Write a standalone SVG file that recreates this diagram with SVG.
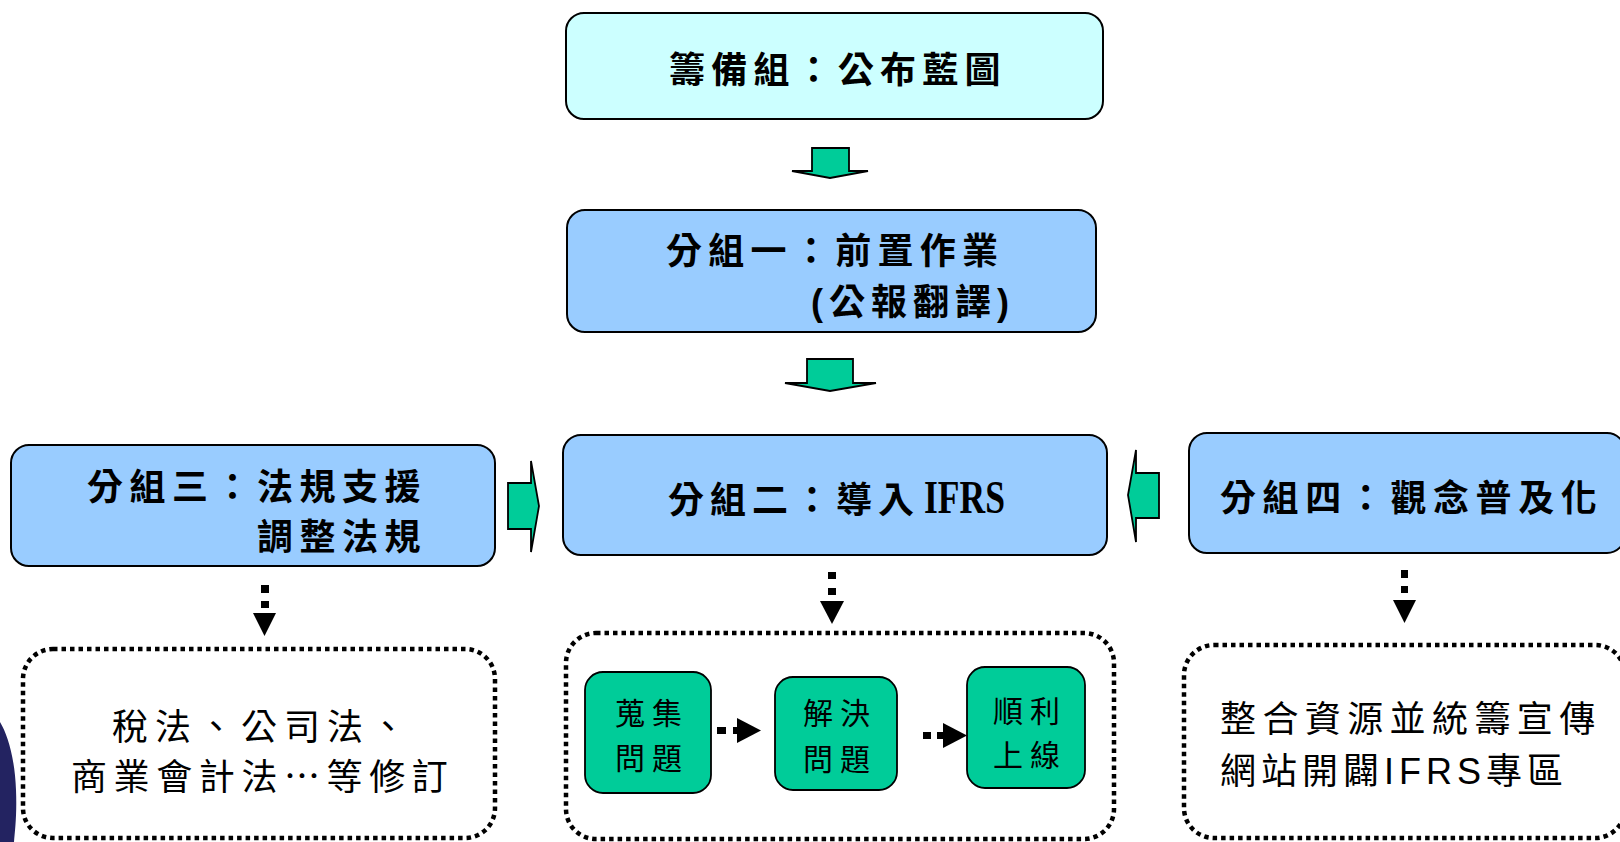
<svg xmlns="http://www.w3.org/2000/svg" width="1620" height="842" viewBox="0 0 1620 842">
<style>
.box{stroke:#000;stroke-width:2}
.cyan{fill:#CCFFFF}
.blue{fill:#99CCFF}
.green{fill:#00CC99;stroke:#000;stroke-width:1.8}
.dot{fill:none;stroke:#000;stroke-width:4.5;stroke-dasharray:4.5 4}
.t{font-family:'Noto Sans CJK TC','Noto Sans CJK SC',sans-serif;font-weight:700;font-size:36px;fill:#000}
.b{font-family:'Noto Sans CJK TC','Noto Sans CJK SC',sans-serif;font-weight:400;font-size:36px;fill:#000}
.s{font-family:'Noto Sans CJK TC','Noto Sans CJK SC',sans-serif;font-weight:400;font-size:30px;fill:#000;letter-spacing:7px}
.k{fill:#000}
</style>
<rect width="1620" height="842" fill="#fff"/>
<path d="M0,722 C8,735 15,760 16,790 C17,815 15,830 14,842 L0,842 Z" fill="#232361"/>

<g id="node-prep">
<rect class="box cyan" x="566" y="13" width="537" height="106" rx="18"/>
<text class="t" x="669" y="83" letter-spacing="6.2">籌備組：公布藍圖</text>
</g>

<g id="node-group1">
<rect class="box blue" x="567" y="210" width="529" height="122" rx="18"/>
<text class="t" x="666" y="264" letter-spacing="6.3">分組一：前置作業</text>
<text class="t" x="811" y="315" letter-spacing="6"><tspan font-family="'Liberation Sans',sans-serif">(</tspan>公報翻譯<tspan font-family="'Liberation Sans',sans-serif">)</tspan></text>
</g>

<g id="node-group3">
<rect class="box blue" x="11" y="445" width="484" height="121" rx="18"/>
<text class="t" x="87" y="500" letter-spacing="6.5">分組三：法規支援</text>
<text class="t" x="257" y="550" letter-spacing="6.5">調整法規</text>
</g>

<g id="node-group2">
<rect class="box blue" x="563" y="435" width="544" height="120" rx="18"/>
<text class="t" x="668" y="513" letter-spacing="6">分組二：導入</text>
<text x="924" y="513" font-family="'Liberation Serif',serif" font-weight="700" font-size="47" textLength="81" lengthAdjust="spacingAndGlyphs">IFRS</text>
</g>

<g id="node-group4">
<rect class="box blue" x="1189" y="433" width="436" height="120" rx="18"/>
<text class="t" x="1220" y="511" letter-spacing="6.6">分組四：觀念普及化</text>
</g>

<g id="node-laws">
<rect class="dot" x="23" y="649" width="472" height="189" rx="30"/>
<text class="b" x="112" y="740" letter-spacing="7">稅法、公司法、</text>
<text class="b" x="71" y="790" letter-spacing="6.6">商業會計法…等修訂</text>
</g>

<g id="node-ifrs-steps">
<rect class="dot" x="566" y="633" width="548" height="206" rx="30"/>
</g>

<g id="node-collect">
<rect class="green" x="585" y="672" width="126" height="121" rx="18"/>
<text class="s" x="615" y="724">蒐集</text>
<text class="s" x="615" y="769">問題</text>
</g>

<g id="node-solve">
<rect class="green" x="775" y="677" width="122" height="113" rx="18"/>
<text class="s" x="803" y="724">解決</text>
<text class="s" x="803" y="770">問題</text>
</g>

<g id="node-online">
<rect class="green" x="967" y="667" width="118" height="121" rx="18"/>
<text class="s" x="993" y="722">順利</text>
<text class="s" x="993" y="766">上線</text>
</g>

<g id="node-promo">
<rect class="dot" x="1184" y="645" width="441" height="193" rx="30"/>
<text class="b" x="1220" y="732" letter-spacing="6.4">整合資源並統籌宣傳</text>
<text class="b" x="1220" y="784" letter-spacing="5">網站開闢<tspan font-family="'Liberation Sans',sans-serif">IFRS</tspan>專區</text>
</g>

<g id="connectors">
<polygon class="green" points="812,148 849,148 849,171 868,171 830,178 792,171 812,171"/>
<polygon class="green" points="807,359 853,359 853,383 876,383 830,391 785,383 807,383"/>
<polygon class="green" points="508,483 531,483 531,461 539,506 531,552 531,529 508,529"/>
<polygon class="green" points="1159,473 1136,473 1136,450 1128,495 1136,542 1136,518 1159,518"/>

<rect class="k" x="261" y="585" width="8" height="8"/>
<rect class="k" x="261" y="601" width="8" height="7"/>
<polygon class="k" points="253,613 276,613 264.5,636"/>

<rect class="k" x="828" y="572" width="8" height="7"/>
<rect class="k" x="828" y="588" width="8" height="7"/>
<polygon class="k" points="820,601 844,601 832,624"/>

<rect class="k" x="1401" y="570" width="7" height="8"/>
<rect class="k" x="1401" y="586" width="7" height="7"/>
<polygon class="k" points="1393,600 1416,600 1404.5,623"/>

<rect class="k" x="717" y="727" width="9" height="7"/>
<rect class="k" x="733" y="727" width="5" height="7"/>
<polygon class="k" points="737,718 761,730.5 737,743"/>

<rect class="k" x="923" y="732" width="8" height="7"/>
<rect class="k" x="937" y="732" width="7" height="7"/>
<polygon class="k" points="943,723 967,735.5 943,748"/>
</g>
</svg>
